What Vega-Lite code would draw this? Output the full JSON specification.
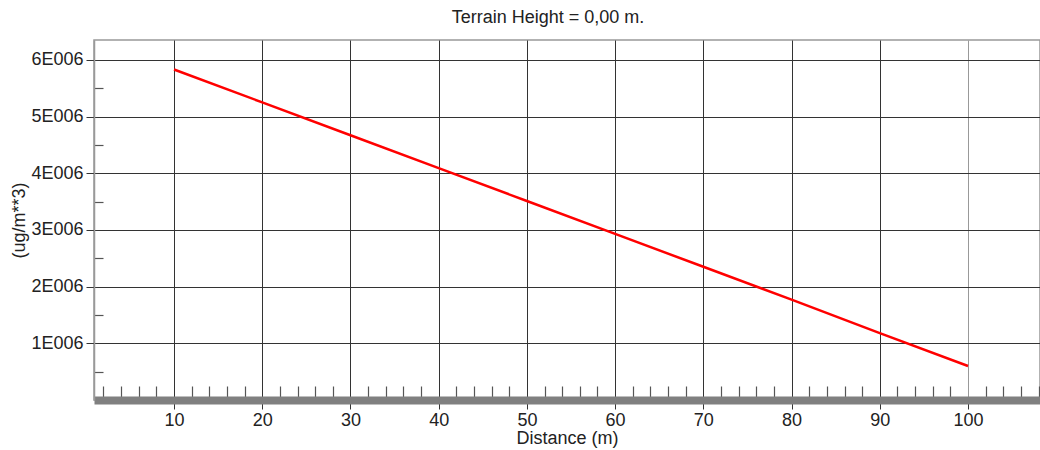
{
  "$schema": "https://vega.github.io/schema/vega-lite/v6.json",
  "autosize": "none",
  "width": 946,
  "height": 360,
  "padding": {"left": 94, "top": 40, "right": 0, "bottom": 50},
  "background": "white",
  "config": {
    "font": "Liberation Sans",
    "view": {"stroke": "#999", "strokeWidth": 1.5}
  },
  "title": {
    "text": "Terrain Height = 0,00 m.",
    "fontSize": 18,
    "fontWeight": "normal",
    "color": "#222",
    "anchor": "middle",
    "dx": -19,
    "offset": 13
  },
  "data": {
    "values": [
      {"distance": 10, "conc": 5830000},
      {"distance": 20, "conc": 5250000},
      {"distance": 30, "conc": 4670000},
      {"distance": 40, "conc": 4090000},
      {"distance": 50, "conc": 3510000},
      {"distance": 60, "conc": 2930000},
      {"distance": 70, "conc": 2350000},
      {"distance": 80, "conc": 1770000},
      {"distance": 90, "conc": 1180000},
      {"distance": 100, "conc": 600000}
    ]
  },
  "layer": [
    {
      "mark": {"type": "line", "strokeOpacity": 0},
      "encoding": {
        "x": {
          "field": "distance", "type": "quantitative",
          "scale": {"domain": [0.93, 108.16], "nice": false, "zero": false},
          "axis": {
            "orient": "bottom", "title": null, "labels": false, "domain": false, "grid": false,
            "values": [2,4,6,8,12,14,16,18,22,24,26,28,32,34,36,38,42,44,46,48,52,54,56,58,62,64,66,68,72,74,76,78,82,84,86,88,92,94,96,98,102,104,106,108],
            "tickSize": -14, "tickColor": "#555", "tickWidth": 1.2
          }
        },
        "y": {
          "field": "conc", "type": "quantitative",
          "scale": {"domain": [0, 6350000], "nice": false},
          "axis": {
            "orient": "left", "title": null, "labels": false, "domain": false, "grid": false,
            "values": [500000, 1500000, 2500000, 3500000, 4500000, 5500000],
            "tickSize": -9, "tickColor": "#555", "tickWidth": 1.2
          }
        }
      }
    },
    {
      "mark": {"type": "line", "color": "#ff0000", "strokeWidth": 2.5},
      "encoding": {
        "x": {
          "field": "distance", "type": "quantitative",
          "scale": {"domain": [0.93, 108.16], "nice": false, "zero": false},
          "axis": {
            "orient": "bottom",
            "title": "Distance (m)",
            "titleFontSize": 18, "titleFontWeight": "normal", "titleColor": "#222", "titlePadding": 0,
            "values": [10,20,30,40,50,60,70,80,90,100],
            "labelFontSize": 18, "labelColor": "#222", "labelPadding": 2,
            "grid": true,
            "gridColor": {"condition": {"test": "datum.value == 100", "value": "#999"}, "value": "#333"},
            "gridWidth": 1,
            "tickSize": 9, "tickColor": "#333",
            "domain": true, "domainColor": "#808080", "domainWidth": 8
          }
        },
        "y": {
          "field": "conc", "type": "quantitative",
          "scale": {"domain": [0, 6350000], "nice": false},
          "axis": {
            "orient": "left",
            "title": "(ug/m**3)",
            "titleFontSize": 18, "titleFontWeight": "normal", "titleColor": "#222", "titlePadding": 2,
            "values": [1000000, 2000000, 3000000, 4000000, 5000000, 6000000],
            "labelExpr": "round(datum.value/1000000) + 'E006'",
            "labelFontSize": 18, "labelColor": "#222", "labelPadding": 3,
            "grid": true, "gridColor": "#333", "gridWidth": 1,
            "tickSize": 8, "tickColor": "#333",
            "domain": true, "domainColor": "#999", "domainWidth": 1.5
          }
        }
      }
    }
  ],
  "resolve": {"axis": {"x": "independent", "y": "independent"}}
}
